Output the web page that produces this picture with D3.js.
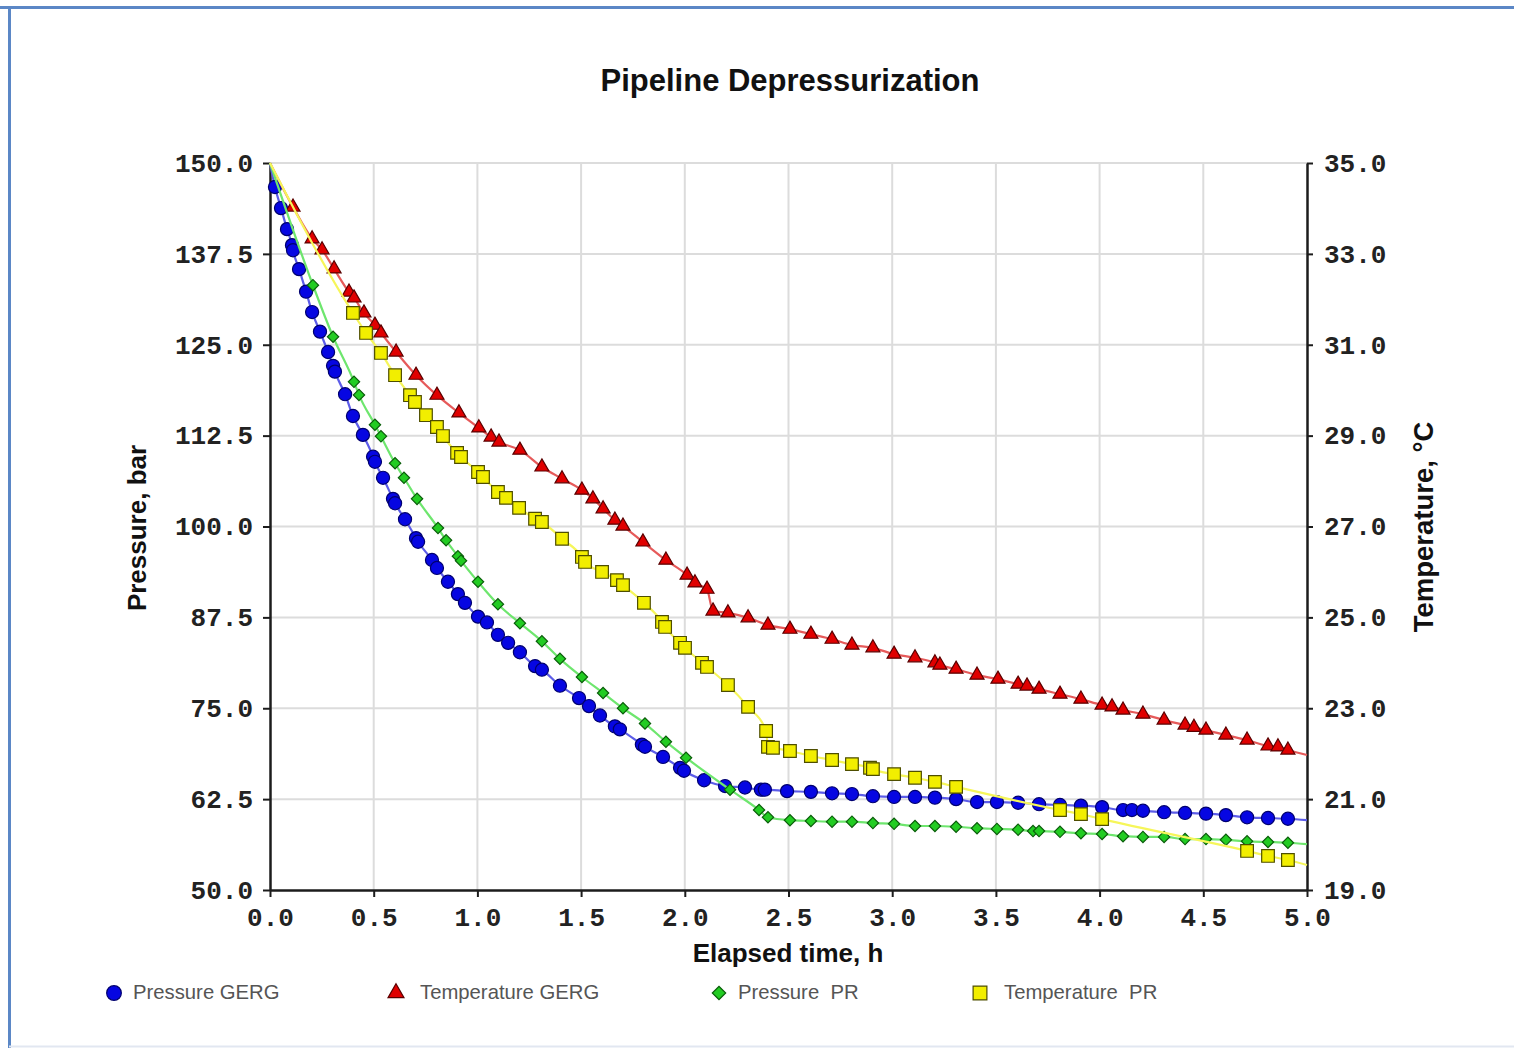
<!DOCTYPE html>
<html>
<head>
<meta charset="utf-8">
<script src="https://cdn.jsdelivr.net/npm/d3@7"></script>
<style>
    body { margin: 0; background: #fff; }
    svg { display: block; }
</style>
</head>
<body>
<svg id="chart" width="1514" height="1048"></svg>
<script>
// axis ticks
const timeTicks = [0, 0.5, 1, 1.5, 2, 2.5, 3, 3.5, 4, 4.5, 5]
const pressureTicks = [50, 62.5, 75, 87.5, 100, 112.5, 125, 137.5, 150]
const temperatureTicks = [19, 21, 23, 25, 27, 29, 31, 33, 35]

// [elapsed time h, value] - first/last points are line ends only
const pressureGerg = [
    [0, 150], [0.024, 146.7], [0.053, 143.8], [0.082, 140.9], [0.106, 138.7], [0.111, 138.0],
    [0.14, 135.4], [0.174, 132.3], [0.203, 129.5], [0.241, 126.8], [0.28, 124.0], [0.304, 122.1],
    [0.313, 121.3], [0.362, 118.2], [0.4, 115.2], [0.448, 112.6], [0.497, 109.6], [0.506, 108.9],
    [0.545, 106.7], [0.593, 103.8], [0.603, 103.2], [0.651, 101.0], [0.704, 98.4], [0.714, 97.9],
    [0.781, 95.4], [0.805, 94.3], [0.858, 92.4], [0.906, 90.7], [0.94, 89.5], [1.003, 87.6],
    [1.046, 86.8], [1.099, 85.1], [1.148, 84.0], [1.205, 82.7], [1.278, 80.8], [1.311, 80.3],
    [1.398, 78.1], [1.49, 76.4], [1.538, 75.3], [1.591, 74.0], [1.663, 72.5], [1.687, 72.1],
    [1.793, 70.0], [1.808, 69.7], [1.895, 68.3], [1.977, 66.8], [1.996, 66.4], [2.093, 65.1],
    [2.194, 64.3], [2.29, 64.1], [2.367, 63.8], [2.386, 63.8], [2.493, 63.6], [2.608, 63.5],
    [2.71, 63.3], [2.806, 63.2], [2.907, 62.9], [3.009, 62.8], [3.11, 62.8], [3.206, 62.7],
    [3.308, 62.5], [3.409, 62.1], [3.505, 62.1], [3.607, 62.0], [3.708, 61.8], [3.809, 61.7],
    [3.91, 61.6], [4.012, 61.4], [4.113, 61.0], [4.156, 61.0], [4.209, 60.9], [4.311, 60.7],
    [4.412, 60.6], [4.513, 60.5], [4.609, 60.3], [4.711, 60.0], [4.812, 59.9], [4.908, 59.8],
    [5, 59.6]
]

const temperatureGerg = [
    [0, 35.0], [0.111, 34.03], [0.203, 33.33], [0.251, 33.09], [0.309, 32.67], [0.381, 32.16],
    [0.405, 32.03], [0.453, 31.7], [0.506, 31.43], [0.535, 31.26], [0.608, 30.84], [0.704, 30.33],
    [0.805, 29.89], [0.911, 29.5], [1.007, 29.17], [1.066, 28.97], [1.104, 28.86], [1.205, 28.68],
    [1.311, 28.31], [1.408, 28.05], [1.504, 27.8], [1.557, 27.61], [1.606, 27.39], [1.663, 27.14],
    [1.702, 27.01], [1.798, 26.66], [1.909, 26.26], [2.011, 25.93], [2.049, 25.76], [2.107, 25.62],
    [2.136, 25.14], [2.208, 25.1], [2.305, 24.99], [2.401, 24.83], [2.507, 24.74], [2.608, 24.63],
    [2.71, 24.52], [2.806, 24.39], [2.907, 24.33], [3.009, 24.19], [3.11, 24.11], [3.206, 24.0],
    [3.23, 23.95], [3.308, 23.86], [3.409, 23.73], [3.51, 23.64], [3.607, 23.53], [3.65, 23.49],
    [3.708, 23.42], [3.809, 23.31], [3.91, 23.2], [4.012, 23.07], [4.06, 23.03], [4.113, 22.96],
    [4.209, 22.87], [4.311, 22.74], [4.412, 22.63], [4.455, 22.58], [4.513, 22.52], [4.609, 22.41],
    [4.711, 22.3], [4.812, 22.17], [4.86, 22.15], [4.908, 22.08], [5, 21.97]
]

const pressurePr = [
    [0, 150], [0.207, 133.2], [0.304, 126.1], [0.405, 119.9], [0.429, 118.1], [0.506, 114.0],
    [0.535, 112.4], [0.603, 108.7], [0.646, 106.7], [0.709, 103.8], [0.81, 99.8], [0.849, 98.1],
    [0.906, 95.9], [0.921, 95.3], [1.003, 92.4], [1.099, 89.3], [1.205, 86.7], [1.311, 84.2],
    [1.398, 81.8], [1.504, 79.3], [1.606, 77.1], [1.702, 75.0], [1.808, 72.9], [1.909, 70.4],
    [2.006, 68.2], [2.218, 63.8], [2.358, 61.0], [2.401, 60.0], [2.507, 59.6], [2.608, 59.5],
    [2.71, 59.4], [2.806, 59.4], [2.907, 59.2], [3.009, 59.1], [3.11, 58.8], [3.206, 58.8],
    [3.308, 58.7], [3.409, 58.5], [3.505, 58.4], [3.607, 58.3], [3.679, 58.1], [3.708, 58.1],
    [3.809, 58.0], [3.91, 57.8], [4.012, 57.7], [4.113, 57.4], [4.209, 57.3], [4.311, 57.3],
    [4.412, 57.0], [4.513, 57.0], [4.609, 56.9], [4.711, 56.7], [4.812, 56.6], [4.908, 56.5],
    [5, 56.3]
]

const temperaturePr = [
    [0, 35.0], [0.4, 31.7], [0.463, 31.26], [0.535, 30.82], [0.603, 30.33], [0.675, 29.89],
    [0.699, 29.74], [0.752, 29.45], [0.805, 29.19], [0.834, 28.99], [0.902, 28.62], [0.921, 28.53],
    [1.003, 28.2], [1.027, 28.09], [1.099, 27.76], [1.138, 27.63], [1.201, 27.41], [1.278, 27.17],
    [1.311, 27.1], [1.408, 26.73], [1.504, 26.33], [1.519, 26.22], [1.601, 26.0], [1.673, 25.82],
    [1.702, 25.71], [1.803, 25.32], [1.89, 24.9], [1.905, 24.79], [1.977, 24.44], [2.001, 24.33],
    [2.083, 24.0], [2.107, 23.91], [2.208, 23.51], [2.305, 23.03], [2.392, 22.5], [2.401, 22.15],
    [2.425, 22.13], [2.507, 22.06], [2.608, 21.95], [2.71, 21.86], [2.806, 21.77], [2.893, 21.69],
    [2.907, 21.66], [3.009, 21.55], [3.11, 21.47], [3.206, 21.38], [3.308, 21.27], [3.809, 20.76],
    [3.91, 20.67], [4.012, 20.56], [4.711, 19.86], [4.812, 19.75], [4.908, 19.66], [5, 19.55]
]

const svg = d3.select('#chart')
const tickFont = "'Liberation Mono', 'Courier New', monospace"
const labelFont = "'Liberation Sans', Arial, sans-serif"

const x = d3.scaleLinear().domain([0, 5]).range([270, 1307])
const yP = d3.scaleLinear().domain([50, 150]).range([890, 163])
const yT = d3.scaleLinear().domain([19, 35]).range([890, 163])

// frame
svg.append('line').attr('x1', 0).attr('x2', 1514).attr('y1', 7.5).attr('y2', 7.5)
    .attr('stroke', '#5b87c6').attr('stroke-width', 3)
svg.append('line').attr('x1', 9.5).attr('x2', 9.5).attr('y1', 6).attr('y2', 1048)
    .attr('stroke', '#5b87c6').attr('stroke-width', 3)
svg.append('line').attr('x1', 9).attr('x2', 1514).attr('y1', 1046.5).attr('y2', 1046.5)
    .attr('stroke', '#e2e7f1').attr('stroke-width', 2)

// grid
const grid = svg.append('g').attr('stroke', '#dcdcdc').attr('stroke-width', 2)
grid.selectAll('.vgrid')
    .data(timeTicks.slice(1, -1))
    .join('line')
    .attr('x1', d => x(d)).attr('x2', d => x(d))
    .attr('y1', yP(150)).attr('y2', yP(50))
grid.selectAll('.hgrid')
    .data(pressureTicks.slice(1))
    .join('line')
    .attr('x1', x(0)).attr('x2', x(5))
    .attr('y1', d => yP(d)).attr('y2', d => yP(d))

const styleAxis = g => {
    g.select('.domain').attr('stroke', '#1c1c1c').attr('stroke-width', 2.5)
    g.selectAll('.tick line').attr('stroke', '#1c1c1c').attr('stroke-width', 2)
    g.selectAll('text')
        .attr('fill', '#222')
        .style('font-family', tickFont)
        .style('font-weight', 'bold')
        .style('font-size', '26px')
}

svg.append('g')
    .attr('transform', `translate(${x(0)},0)`)
    .call(d3.axisLeft(yP).tickValues(pressureTicks).tickFormat(d3.format('.1f'))
        .tickSize(7).tickSizeOuter(0).tickPadding(10))
    .call(styleAxis)

svg.append('g')
    .attr('transform', `translate(${x(5)},0)`)
    .call(d3.axisRight(yT).tickValues(temperatureTicks).tickFormat(d3.format('.1f'))
        .tickSize(6).tickSizeOuter(0).tickPadding(11))
    .call(styleAxis)

svg.append('g')
    .attr('transform', `translate(0,${yP(50)})`)
    .call(d3.axisBottom(x).tickValues(timeTicks).tickFormat(d3.format('.1f'))
        .tickSize(7).tickSizeOuter(0).tickPadding(11))
    .call(styleAxis)

// series
const series = [
    { name: 'Pressure GERG', data: pressureGerg, y: yP, line: '#5c5ce8', fill: '#0606e2', stroke: '#00006e', symbol: d3.symbolCircle, size: 135, legendSize: 170, rotate: 0 },
    { name: 'Temperature GERG', data: temperatureGerg, y: yT, line: '#e65a5a', fill: '#e00000', stroke: '#5a0000', symbol: d3.symbolTriangle, size: 85, legendSize: 110, rotate: 0 },
    { name: 'Pressure  PR', data: pressurePr, y: yP, line: '#6ee66e', fill: '#22cc22', stroke: '#0b5e0b', symbol: d3.symbolSquare, size: 64, legendSize: 90, rotate: 45 },
    { name: 'Temperature  PR', data: temperaturePr, y: yT, line: '#f6f65a', fill: '#f2ee00', stroke: '#4e4e00', symbol: d3.symbolSquare, size: 160, legendSize: 190, rotate: 0 }
]

series.forEach(s => {
    const line = d3.line()
        .x(d => x(d[0]))
        .y(d => s.y(d[1]))
        .curve(d3.curveMonotoneX)

    svg.append('path')
        .datum(s.data)
        .attr('fill', 'none')
        .attr('stroke', s.line)
        .attr('stroke-width', 2.2)
        .attr('d', line)

    svg.append('g')
        .selectAll('path')
        .data(s.data.filter(d => d[0] > 0 && d[0] < 5))
        .join('path')
        .attr('transform', d => `translate(${x(d[0])},${s.y(d[1])}) rotate(${s.rotate})`)
        .attr('d', d3.symbol(s.symbol, s.size))
        .attr('fill', s.fill)
        .attr('stroke', s.stroke)
        .attr('stroke-width', 1.2)
})

// titles
const addLabel = (transform, text, size) => svg.append('text')
    .attr('transform', transform)
    .attr('text-anchor', 'middle')
    .style('font-family', labelFont).style('font-weight', 'bold').style('font-size', size)
    .attr('fill', '#111')
    .text(text)

addLabel('translate(790,91)', 'Pipeline Depressurization', '31px')
addLabel('translate(788,962)', 'Elapsed time, h', '26px')
addLabel('translate(146,528) rotate(-90)', 'Pressure, bar', '26px')
addLabel('translate(1433,527) rotate(-90)', 'Temperature, °C', '27.5px')

// legend
const legendX = [114, 396, 719, 980]
const legend = svg.append('g')
    .selectAll('g')
    .data(series)
    .join('g')
    .attr('transform', (d, i) => `translate(${legendX[i]},993)`)

legend.append('path')
    .attr('transform', d => `rotate(${d.rotate})`)
    .attr('d', d => d3.symbol(d.symbol, d.legendSize)())
    .attr('fill', d => d.fill)
    .attr('stroke', d => d.stroke)
    .attr('stroke-width', 1.2)

legend.append('text')
    .attr('x', (d, i) => i === 1 || i === 3 ? 24 : 19)
    .attr('y', 6)
    .style('font-family', labelFont).style('font-size', '20.3px')
    .style('white-space', 'pre')
    .attr('fill', '#555')
    .text(d => d.name)
</script>
</body>
</html>
